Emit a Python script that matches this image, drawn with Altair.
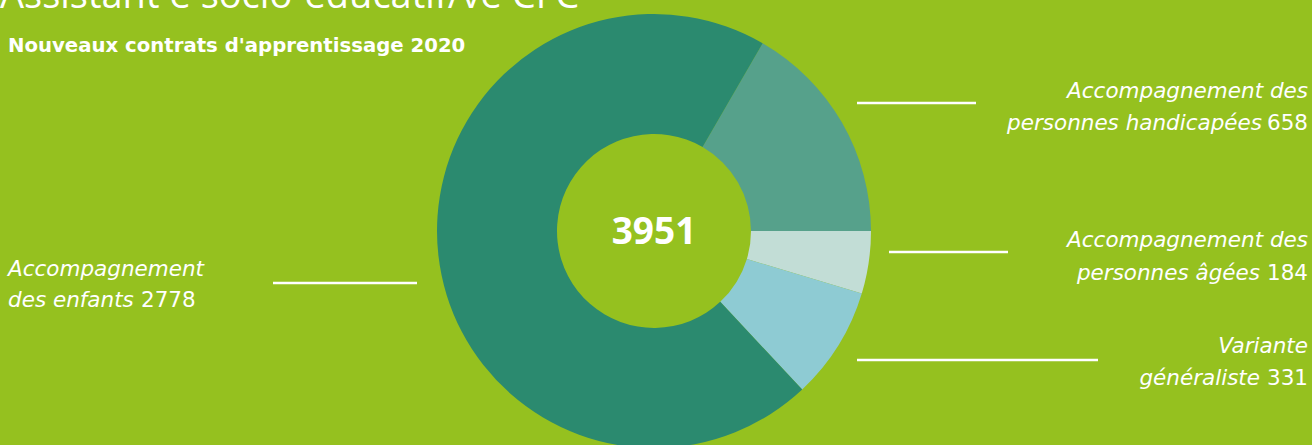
import math
import altair as alt
import pandas as pd

# ---- data ----
categories = [
    "Accompagnement des personnes handicapées",
    "Accompagnement des personnes âgées",
    "Variante généraliste",
    "Accompagnement des enfants",
]
values = [658, 184, 331, 2778]
colors = ["#56A18B", "#C2DDD6", "#8ECBD3", "#2B8A6F"]
label_line1 = ["Accompagnement des", "Accompagnement des", "Variante", "Accompagnement"]
label_line2 = ["personnes handicapées", "personnes âgées", "généraliste", "des enfants"]
total_label = "3951"
title = "Assistant·e socio-éducatif/ve CFC"
subtitle = "Nouveaux contrats d'apprentissage 2020"

# ---- layout ----
BG = "#95C11F"
W, H = 1312, 445
CX, CY, R_OUT, R_IN = 654, 231, 217, 97
FONT = "DejaVu Sans"
LFS = 21.5

total = sum(values)
start = math.pi / 2 - values[0] / total * 2 * math.pi

pie_df = pd.DataFrame({"cat": categories, "value": values, "ord": list(range(len(values)))})

l1_x = [1308, 1308, 1308, 8]
l1_y = [98, 247, 353, 276]
l2_x = [1262, 1260, 1260, 8]
l2_y = [130, 280, 385, 307]
num_x = [1308, 1308, 1308, 141]
align = ["right", "right", "right", "left"]

lab_df = pd.DataFrame({
    "l1": label_line1, "l2": label_line2, "num": [str(v) for v in values],
    "l1x": l1_x, "l1y": l1_y, "l2x": l2_x, "l2y": l2_y, "nx": num_x, "al": align,
})

rule_df = pd.DataFrame({
    "x": [857, 889, 857, 273],
    "x2": [976, 1008, 1098, 417],
    "y": [103, 252, 360, 283],
})

X = lambda f: alt.X(f, type="quantitative", scale=None, axis=None)
Y = lambda f: alt.Y(f, type="quantitative", scale=None, axis=None)

pie = alt.Chart(pie_df).mark_arc(
    x=CX, y=CY, radius=R_OUT, radius2=R_IN, stroke=None
).encode(
    theta=alt.Theta("value:Q", stack=True,
                    scale=alt.Scale(range=[start, start + 2 * math.pi])),
    order=alt.Order("ord:Q"),
    color=alt.Color("cat:N", scale=alt.Scale(domain=categories, range=colors), legend=None),
)

rules = alt.Chart(rule_df).mark_rule(color="white", strokeWidth=2.5).encode(
    x=X("x"), x2="x2", y=Y("y")
)

right_df = lab_df[lab_df["al"] == "right"]
left_df = lab_df[lab_df["al"] == "left"]

def text_layers(df, al):
    base = alt.Chart(df)
    t1 = base.mark_text(align=al, baseline="alphabetic", font=FONT, fontSize=LFS,
                        fontStyle="italic", color="white").encode(
        x=X("l1x"), y=Y("l1y"), text="l1:N")
    t2 = base.mark_text(align=al, baseline="alphabetic", font=FONT, fontSize=LFS,
                        fontStyle="italic", color="white").encode(
        x=X("l2x"), y=Y("l2y"), text="l2:N")
    t3 = base.mark_text(align=al, baseline="alphabetic", font=FONT, fontSize=LFS,
                        color="white").encode(
        x=X("nx"), y=Y("l2y"), text="num:N")
    return [t1, t2, t3]

center = alt.Chart(pd.DataFrame({"t": [total_label]})).mark_text(
    align="center", baseline="middle", font="Open Sans", fontSize=37, fontWeight="bold", color="white"
).encode(x=alt.value(CX), y=alt.value(CY + 2), text="t:N")

title_t = alt.Chart(pd.DataFrame({"t": [title]})).mark_text(
    align="left", baseline="alphabetic", font="Open Sans", fontSize=38, color="white"
).encode(x=alt.value(0), y=alt.value(8), text="t:N")

sub_t = alt.Chart(pd.DataFrame({"t": [subtitle]})).mark_text(
    align="left", baseline="alphabetic", font=FONT, fontSize=19.7, fontWeight="bold", color="white"
).encode(x=alt.value(8), y=alt.value(52), text="t:N")

chart = alt.layer(
    pie, rules, *text_layers(right_df, "right"), *text_layers(left_df, "left"),
    center, title_t, sub_t
).properties(
    width=W, height=H, background=BG, padding=0,
    autosize=alt.AutoSizeParams(type="none"),
).configure_view(stroke=None)

chart.save("out.html", embed_options={"renderer": "svg", "actions": False})
